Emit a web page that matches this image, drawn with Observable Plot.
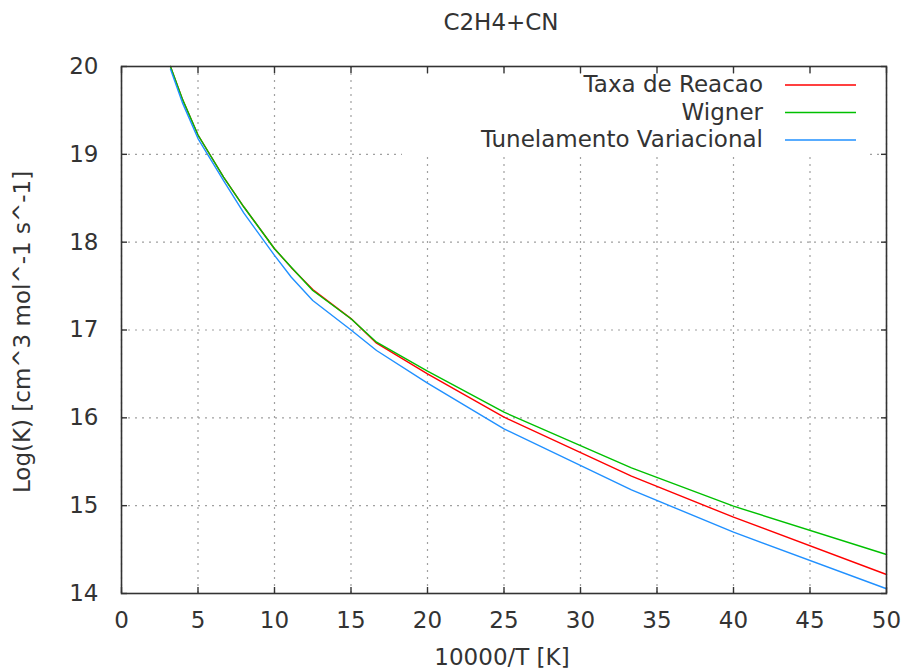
<!DOCTYPE html>
<html><head><meta charset="utf-8">
<script src="https://cdn.jsdelivr.net/npm/d3@7"></script>
<script src="https://cdn.jsdelivr.net/npm/@observablehq/plot@0.6"></script>
<style>body{margin:0;background:#fff} #chart{width:904px;height:671px}</style>
</head><body><div id="chart"></div>
<script>
// 10000/T values of the data points
const invT = [3.2, 4, 5, 6.67, 8, 10, 11.1, 12.5, 15, 16.67, 20, 25, 33.33, 40, 50];
const taxaReacao  = [20.0, 19.62, 19.22, 18.74, 18.40, 17.925, 17.71, 17.46, 17.13, 16.85, 16.50, 16.007, 15.336, 14.869, 14.216];
const wigner      = [20.0, 19.62, 19.22, 18.74, 18.40, 17.925, 17.715, 17.45, 17.128, 16.861, 16.531, 16.064, 15.43, 14.994, 14.444];
const tunelamento = [19.97, 19.58, 19.18, 18.70, 18.33, 17.85, 17.60, 17.336, 17.0, 16.767, 16.395, 15.875, 15.18, 14.698, 14.054];
const xTicks = [0, 5, 10, 15, 20, 25, 30, 35, 40, 45, 50];
const yTicks = [14, 15, 16, 17, 18, 19, 20];
const seriesNames = ["Taxa de Reacao", "Wigner", "Tunelamento Variacional"];
const seriesColors = ["#ff0000", "#00c000", "#2090ff"];
const titleText = "C2H4+CN";
const xLabel = "10000/T [K]";
const yLabel = "Log(K) [cm^3 mol^-1 s^-1]";

const seriesValues = [taxaReacao, wigner, tunelamento];
const rows = seriesValues.map((vals, s) => invT.map((x, i) => ({x, y: vals[i], name: seriesNames[s]})));

const ink = "#333";
const fontPx = 23;
const gridStyle = {stroke: "#a0a0a0", strokeOpacity: 1, strokeWidth: 1.2, strokeDasharray: "2,5"};
const fmt = d => String(d);

const plot = Plot.plot({
  width: 904, height: 671,
  marginLeft: 121, marginRight: 18, marginTop: 66, marginBottom: 78,
  style: {fontFamily: "'DejaVu Sans', sans-serif", fontSize: fontPx + "px", color: ink, background: "#fff"},
  x: {domain: [0, 50], label: null},
  y: {domain: [14, 20], label: null},
  marks: [
    Plot.gridX(xTicks, gridStyle),
    Plot.gridY(yTicks, gridStyle),
    ...rows.map((r, s) => Plot.line(r, {x: "x", y: "y", stroke: seriesColors[s], strokeWidth: 1.4})),
    Plot.frame({stroke: ink, strokeWidth: 1.6}),
    Plot.axisX(xTicks, {anchor: "bottom", tickSize: -6, fill: "none", label: null, stroke: ink, strokeWidth: 1.4}),
    Plot.axisX(xTicks, {anchor: "top", tickSize: -6, fill: "none", label: null, stroke: ink, strokeWidth: 1.4}),
    Plot.axisY(yTicks, {anchor: "left", tickSize: -6, fill: "none", label: null, stroke: ink, strokeWidth: 1.4}),
    Plot.axisY(yTicks, {anchor: "right", tickSize: -6, fill: "none", label: null, stroke: ink, strokeWidth: 1.4}),
    Plot.axisX(xTicks, {anchor: "bottom", tickSize: 0, tickPadding: 18, tickFormat: fmt, label: null, fill: ink}),
    Plot.axisY(yTicks, {anchor: "left", tickSize: 0, tickPadding: 23, tickFormat: fmt, label: null, fill: ink}),
    Plot.text([titleText], {text: d => d, frameAnchor: "top", dy: -43.5, dx: -3, lineAnchor: "middle", textAnchor: "middle", fill: ink}),
    Plot.text([xLabel], {text: d => d, frameAnchor: "bottom", dy: 64.5, dx: -2, lineAnchor: "middle", textAnchor: "middle", fill: ink}),
    Plot.text([yLabel], {text: d => d, frameAnchor: "left", dx: -99, dy: 2, rotate: -90, lineAnchor: "middle", textAnchor: "middle", fill: ink})
  ]
});

// gnuplot-style key inside the plot, with an opaque box
const g = d3.select(plot).append("g").attr("font-family", "'DejaVu Sans', sans-serif").attr("font-size", fontPx);
g.append("rect").attr("x", 402).attr("y", 74).attr("width", 466).attr("height", 82).attr("fill", "#fff");
seriesNames.forEach((n, i) => {
  const yy = 85 + i * 27.5;
  g.append("text").attr("x", 763).attr("y", yy).attr("dy", "0.32em").attr("text-anchor", "end").attr("fill", ink).text(n);
  g.append("line").attr("x1", 785).attr("x2", 856).attr("y1", yy).attr("y2", yy)
    .attr("stroke", seriesColors[i]).attr("stroke-width", 1.4);
});

document.getElementById("chart").appendChild(plot);
</script>
</body></html>
